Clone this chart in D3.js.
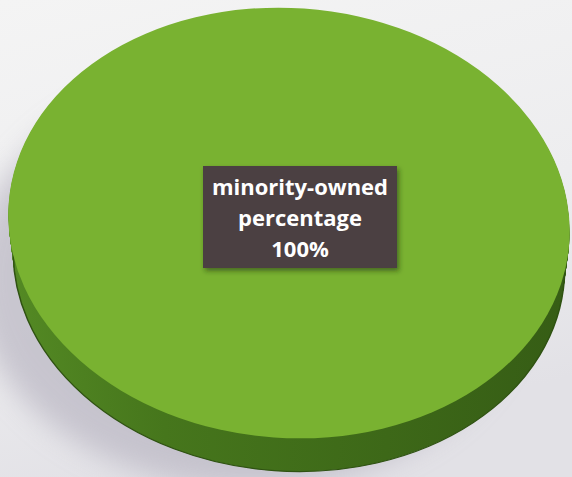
<!DOCTYPE html>
<html>
<head>
<meta charset="utf-8">
<script src="https://cdn.jsdelivr.net/npm/d3@7"></script>
<style>
html,body{margin:0;padding:0;background:#f1f1f2;}
svg{display:block;}
</style>
</head>
<body>
<svg id="chart" width="572" height="477"></svg>
<script>
// Data
const categories = ["minority-owned"];
const values = [100];
const labelLines = ["minority-owned", "percentage", "100%"];

const W = 572, H = 477;
const svg = d3.select("#chart");
const defs = svg.append("defs");

// background
const bg = defs.append("linearGradient").attr("id","bg").attr("x1","0").attr("y1","0").attr("x2","0.3").attr("y2","1");
bg.append("stop").attr("offset","0").attr("stop-color","#f4f4f4");
bg.append("stop").attr("offset","0.6").attr("stop-color","#ededef");
bg.append("stop").attr("offset","1").attr("stop-color","#e2e1e6");
svg.append("rect").attr("width",W).attr("height",H).attr("fill","url(#bg)");

const blur = defs.append("filter").attr("id","blur").attr("x","-30%").attr("y","-30%").attr("width","160%").attr("height","160%");
blur.append("feGaussianBlur").attr("stdDeviation",14);

const boxShadow = defs.append("filter").attr("id","bshadow").attr("x","-20%").attr("y","-20%").attr("width","140%").attr("height","150%");
boxShadow.append("feDropShadow").attr("dx",2).attr("dy",3).attr("stdDeviation",2.5).attr("flood-color","#1f3008").attr("flood-opacity",0.55);

const sideGrad = defs.append("linearGradient").attr("id","side")
  .attr("x1",0).attr("y1",0).attr("x2",1).attr("y2",0);
sideGrad.append("stop").attr("offset","0").attr("stop-color","#548a24");
sideGrad.append("stop").attr("offset","0.3").attr("stop-color","#46761c");
sideGrad.append("stop").attr("offset","0.7").attr("stop-color","#3d6818");
sideGrad.append("stop").attr("offset","1").attr("stop-color","#365d15");

// geometry
const cx = 289, cy = 223, R = 281, ry = 215, tilt = 4, depth = 37, shrink = 5;
const pie = d3.pie().sort(null).value(d => d);
const arcs = pie(values);

// cast shadow
svg.append("ellipse")
  .attr("cx", cx - 40).attr("cy", cy + 55).attr("rx", R - 5).attr("ry", ry - 5)
  .attr("fill", "#b9b6c2").attr("opacity", 0.7).attr("filter","url(#blur)");

function face(offset, r){
  const arc = d3.arc().innerRadius(0).outerRadius(r);
  const g = svg.append("g")
    .attr("transform", `translate(${cx},${cy + offset}) rotate(${tilt}) scale(1,${ry/R})`);
  return g.selectAll("path").data(arcs).join("path").attr("d", arc);
}

// side wall: stacked copies of the slice, slightly narrower with depth (perspective)
for (let k = depth; k >= 1; k--) {
  face(k, R - shrink * k / depth).attr("fill", "url(#side)");
}
face(depth, R - shrink).attr("fill", "none").attr("stroke", "#2f5212").attr("stroke-width", 1.5);

// top face
face(0, R).attr("fill", "#79b231");

// label box
const bx = 203, by = 166, bw = 194, bh = 102;
svg.append("rect").attr("x", bx).attr("y", by).attr("width", bw).attr("height", bh)
  .attr("fill", "#4b3f42").attr("filter", "url(#bshadow)");

const txt = svg.append("text")
  .attr("font-family", "'Open Sans', sans-serif")
  .attr("font-weight", 700).attr("font-size", 22)
  .attr("fill", "#ffffff").attr("text-anchor", "middle");
txt.selectAll("tspan").data(labelLines).join("tspan")
  .attr("x", bx + bw/2)
  .attr("y", (d,i) => 195 + i*31)
  .text(d => d);
</script>
</body>
</html>
